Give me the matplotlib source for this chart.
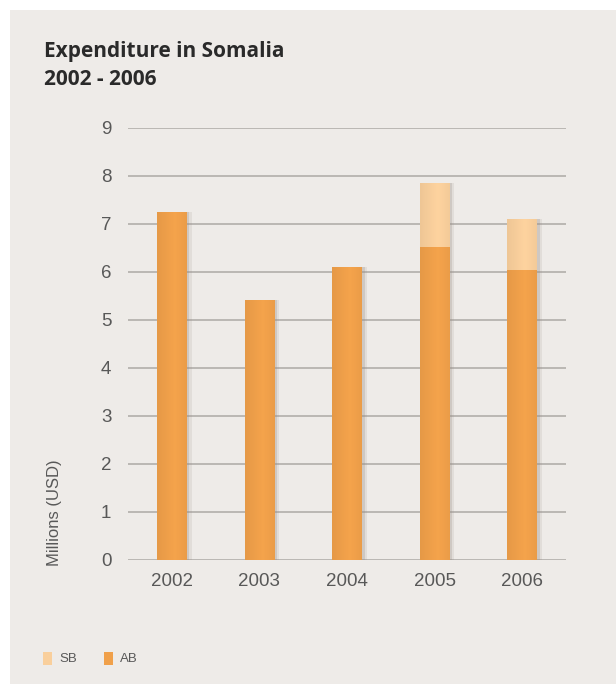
import matplotlib

matplotlib.use("Agg")
import matplotlib.pyplot as plt
import numpy as np
from matplotlib.patches import Rectangle

# data
years = ["2002", "2003", "2004", "2005", "2006"]
ab = [7.25, 5.42, 6.1, 6.52, 6.04]
sb = [0.0, 0.0, 0.0, 1.33, 1.06]
yticks = list(range(0, 10))

AB_COLOR = "#F0A04A"
SB_COLOR = "#F9CF9C"
BG = "#EEEBE8"
TXT = "#585858"

fig = plt.figure(figsize=(6.16, 6.84), dpi=100)
fig.patch.set_facecolor("white")
# paper background, white strip on top/left like the scan
fig.add_artist(Rectangle((10 / 616, 0), 1, 1 - 10 / 684, transform=fig.transFigure,
                         facecolor=BG, edgecolor="none", zorder=0))

ax = fig.add_axes([128 / 616, 124 / 684, 438 / 616, 432 / 684])
ax.set_facecolor("none")
x = np.arange(len(years))
w = 0.34

# horizontal gradient to fake the rounded/shaded bar look
grad = np.concatenate([np.linspace(0.55, 1.0, 30), np.linspace(1.0, 0.7, 20)])


def shaded_bar(xc, bottom, height, color):
    if height <= 0:
        return
    # soft drop shadow to the right
    for off, a in [(0.03, 0.25), (0.055, 0.15)]:
        ax.bar(xc + off, height, w, bottom=bottom, color="#9a8f85", alpha=a,
               zorder=2, linewidth=0)
    bar = ax.bar(xc, height, w, bottom=bottom, color=color, zorder=3, linewidth=0)[0]
    rgb = np.array(matplotlib.colors.to_rgb(color))
    img = np.clip(rgb[None, :] * (0.88 + 0.14 * grad[:, None]), 0, 1)[None, :, :]
    im = ax.imshow(img, extent=(xc - w / 2, xc + w / 2, bottom, bottom + height),
                   aspect="auto", zorder=4, interpolation="bilinear")
    im.set_clip_path(bar)


for i in range(len(years)):
    shaded_bar(x[i], 0, ab[i], AB_COLOR)
    shaded_bar(x[i], ab[i], sb[i], SB_COLOR)

ax.set_xlim(-0.5, len(years) - 0.5)
ax.set_ylim(0, 9)
ax.set_yticks(yticks)
ax.set_xticks(x)
ax.set_xticklabels(years)
ax.yaxis.grid(True, color="#b1aeaa", lw=1.2)
ax.set_axisbelow(True)
for s in ax.spines.values():
    s.set_visible(False)
ax.tick_params(length=0, labelsize=13.5, labelcolor=TXT, pad=12)
ax.tick_params(axis="x", pad=9)
for lab in ax.get_xticklabels() + ax.get_yticklabels():
    lab.set_family("Liberation Sans")

fig.text(55 / 616, 1 - 566 / 684, "Millions (USD)", rotation=90, ha="center",
         va="bottom", fontsize=12, color=TXT, family="Liberation Sans")

fig.text(44 / 616, 1 - 57 / 684, "Expenditure in Somalia", fontsize=15,
         fontweight="bold", color="#2a2a2a", family="Open Sans", va="baseline")
fig.text(44 / 616, 1 - 85 / 684, "2002 - 2006", fontsize=15,
         fontweight="bold", color="#2a2a2a", family="Open Sans", va="baseline")

# legend
for px, col, name in [(43, SB_COLOR, "SB"), (104, AB_COLOR, "AB")]:
    fig.add_artist(Rectangle((px / 616, 1 - 665 / 684), 9 / 616, 13 / 684,
                             transform=fig.transFigure, facecolor=col, edgecolor="none"))
    fig.text((px + 16) / 616, 1 - 659 / 684, name, fontsize=9.5, color=TXT,
             va="center", family="Liberation Sans")

fig.savefig("out.png", dpi=100, facecolor=fig.get_facecolor())
